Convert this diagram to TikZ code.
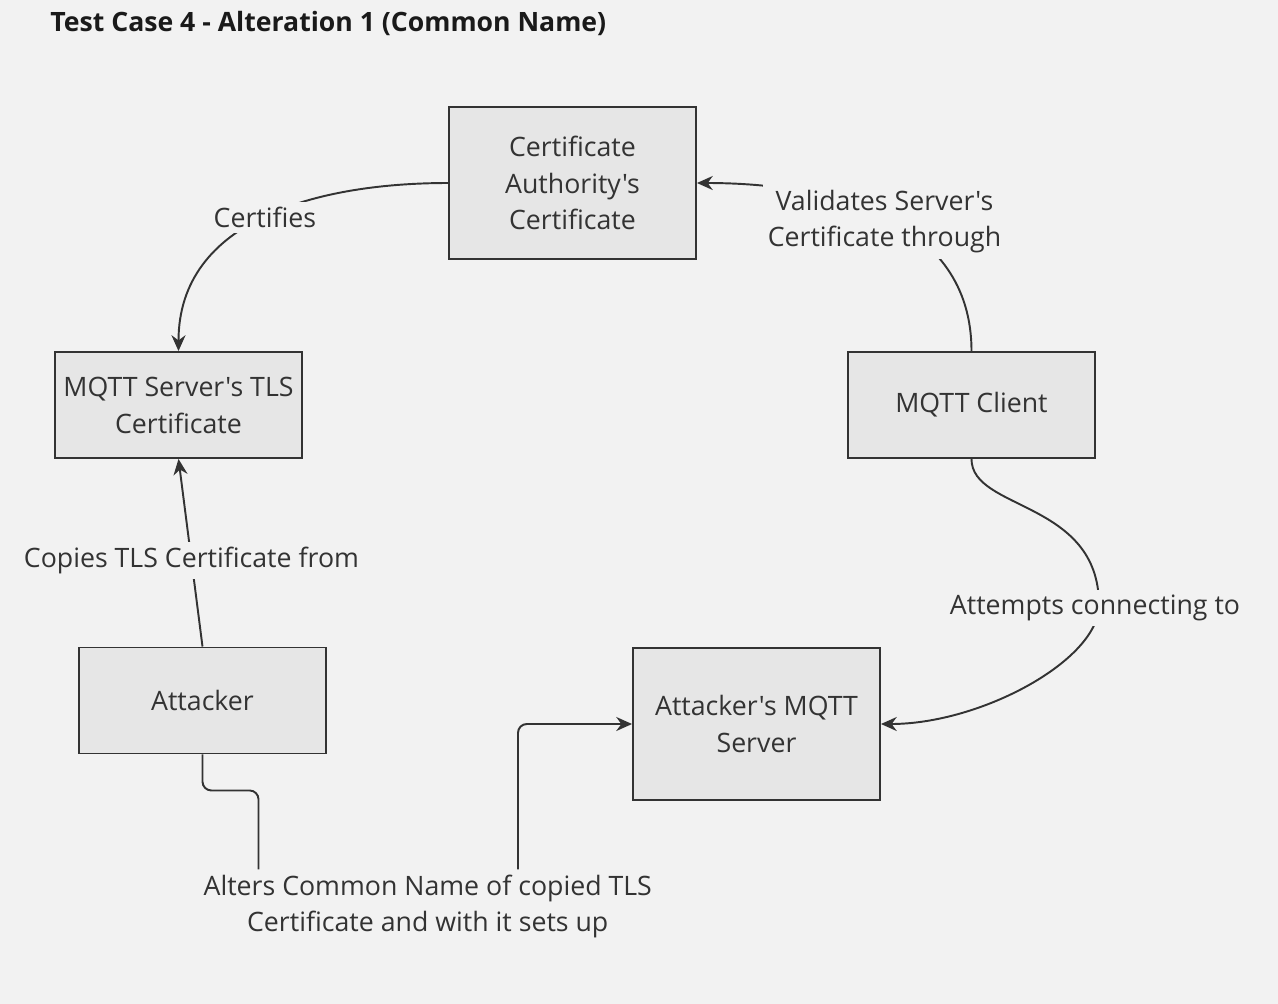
\documentclass[tikz,border=0pt]{standalone}
\usepackage{fontspec}
\newfontfamily\osans{Open Sans}
\usetikzlibrary{arrows.meta}

\definecolor{bggray}{HTML}{F2F2F2}
\definecolor{boxgray}{HTML}{E6E6E6}
\definecolor{inkgray}{HTML}{333333}
\definecolor{titleink}{HTML}{1A1A1A}

\begin{document}
\begin{tikzpicture}[node distance=4.44cm]
        \tikzstyle{entity} = [rectangle, minimum width=4.94cm, minimum height=2.12cm, text centered, align=center, draw=inkgray, line width=1.1pt, fill=boxgray, text=inkgray, inner sep=2pt, font=\osans\fontsize{15.2}{21}\selectfont]
        \tikzstyle{tall} = [minimum height=3.04cm]
        \tikzstyle{edgelabel} = [fill=bggray, text=inkgray, align=center, inner sep=3pt, font=\osans\fontsize{15.2}{21}\selectfont]
        \tikzstyle{arrow} = [line width=1.1pt, draw=inkgray, -{Stealth[length=9pt,width=8pt]}]

        \fill[bggray] (0,0) rectangle (25.56,-20.08);
        \useasboundingbox (0,0) rectangle (25.56,-20.08);

        \node (title) [anchor=base west, inner sep=0pt, text=titleink, font=\osans\bfseries\fontsize{15.15}{18}\selectfont] at (1.0,-0.62) {Test Case 4 - Alteration 1 (Common Name)};

        \node (ca) [entity, tall] at (11.45,-3.66) {Certificate\\Authority's\\Certificate};
        \node (tls) [entity, below of=ca, xshift=-7.88cm] {MQTT Server's TLS\\Certificate};
        \node (client) [entity, below of=ca, xshift=7.98cm] {MQTT Client};
        \node (attacker) [entity, below of=tls, xshift=0.48cm, yshift=-1.47cm] {Attacker};
        \node (fakeserver) [entity, tall, below of=client, xshift=-4.30cm, yshift=-1.94cm] {Attacker's MQTT\\Server};

        \coordinate (turn) at (21.98,-12.10);

        \draw [arrow] (ca.west) .. controls +(-2.58,0) and +(0,2.64) .. (tls.north) node[edgelabel, pos=0.5] {Certifies};
        \draw [arrow] (client.north) .. controls +(0,2.64) and +(2.68,0) .. (ca.east) node[edgelabel, pos=0.5, yshift=-0.08cm] {Validates Server's\\Certificate through};
        \draw [arrow] (attacker.north) -- (tls.south) node[edgelabel, pos=0.46] {Copies TLS Certificate from};
        \draw [arrow] (client.south) .. controls +(0,-1.04) and +(0,2.1) .. (turn) node[edgelabel, xshift=-0.08cm, yshift=-0.06cm] {Attempts connecting to} .. controls +(0,-1.1) and +(2.0,0) .. (fakeserver.east);
        \draw [arrow, rounded corners=5pt] (attacker.south) -- ++(0,-0.72) -- ++(1.12,0) -- ++(0,-2.32) -- ++(5.19,0) node[edgelabel, midway, xshift=0.79cm] {Alters Common Name of copied TLS\\Certificate and with it sets up} |- (fakeserver.west);
    \end{tikzpicture}
\end{document}
